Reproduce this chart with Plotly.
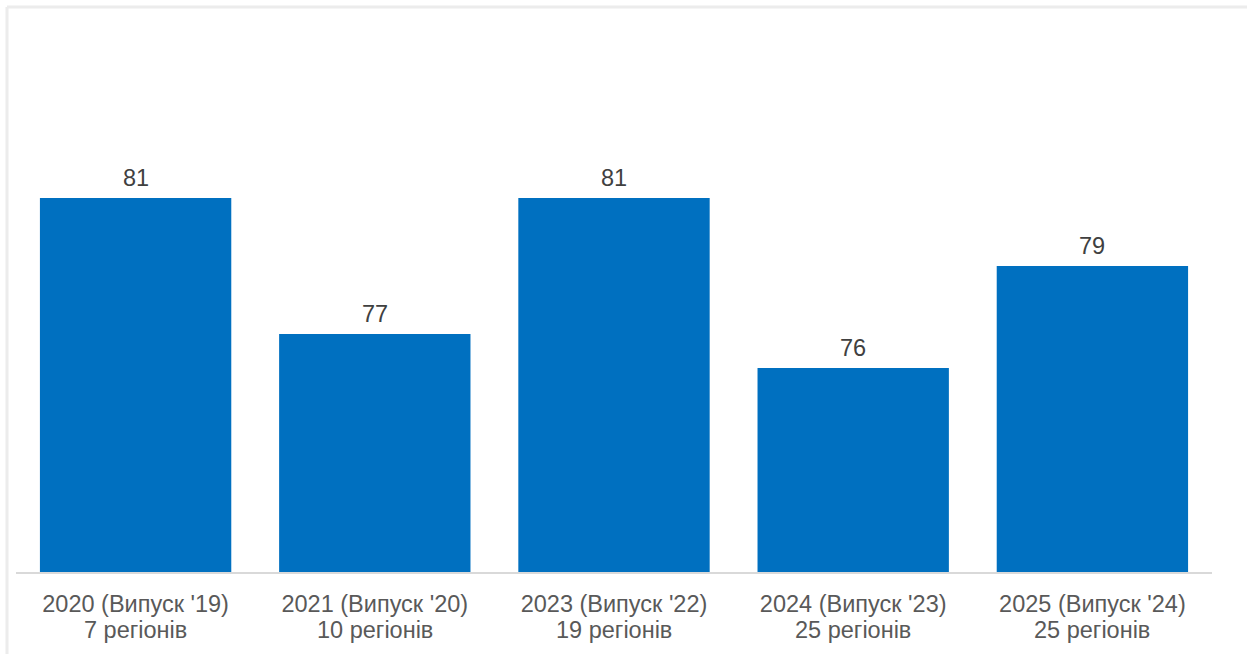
import plotly.graph_objects as go

years = ["2020 (Випуск '19)", "2021 (Випуск '20)", "2023 (Випуск '22)",
         "2024 (Випуск '23)", "2025 (Випуск '24)"]
regions = ["7 регіонів", "10 регіонів", "19 регіонів", "25 регіонів", "25 регіонів"]
values = [81, 77, 81, 76, 79]

W, H = 1247, 654
L, R, T, B = 16, 35, 62, 82
FONT = "Liberation Sans, Arial, sans-serif"

fig = go.Figure()
fig.add_trace(go.Bar(
    x=years,
    y=values,
    marker_color="#0070C0",
    marker_line_width=0,
    hoverinfo="x+y",
))

# value labels above bars
for c, v in zip(years, values):
    fig.add_annotation(
        x=c, y=v, text=str(v), showarrow=False,
        yanchor="bottom", yshift=5,
        font=dict(size=23.5, color="#404040", family=FONT),
    )

# second line of category labels (tighter line spacing than plotly's <br>)
for c, r in zip(years, regions):
    fig.add_annotation(
        x=c, y=0, yref="paper", text=r, showarrow=False,
        yanchor="middle", yshift=-58,
        font=dict(size=23.5, color="#595959", family=FONT),
    )

pw = W - L - R
ph = H - T - B
# light grey frame (top and left edges)
fig.add_shape(type="line", xref="paper", yref="paper",
              x0=(7 - L) / pw, x1=(W + 5 - L) / pw,
              y0=(H - B - 7) / ph, y1=(H - B - 7) / ph,
              line=dict(color="#ececec", width=3))
fig.add_shape(type="line", xref="paper", yref="paper",
              x0=(7 - L) / pw, x1=(7 - L) / pw,
              y0=(H - B - 7) / ph, y1=-(B + 5) / ph,
              line=dict(color="#ececec", width=3))

fig.update_layout(
    width=W, height=H,
    margin=dict(l=L, r=R, t=T, b=B),
    paper_bgcolor="white",
    plot_bgcolor="white",
    bargap=0.2,
    showlegend=False,
    font=dict(family=FONT, size=22, color="#595959"),
)
fig.update_xaxes(
    showline=True, linecolor="#d9d9d9", linewidth=2,
    showgrid=False, ticks="outside", ticklen=10, tickcolor="rgba(0,0,0,0)",
    tickfont=dict(size=23.5, color="#595959"),
)
fig.update_yaxes(range=[70, 85], visible=False, showgrid=False)

fig.write_html("out.html", config={"displayModeBar": False},
               post_script="document.body.style.margin='0px';")
